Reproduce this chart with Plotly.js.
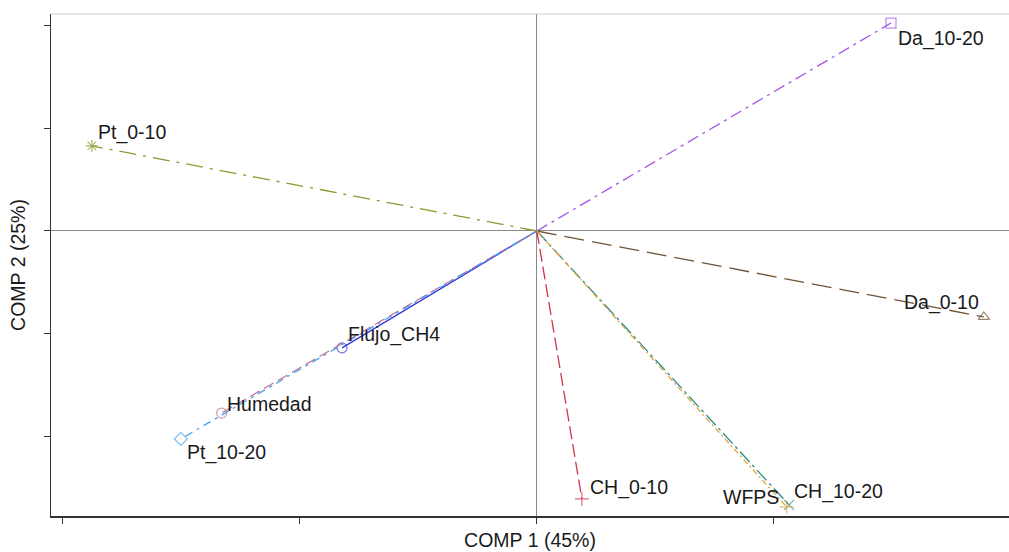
<!DOCTYPE html>
<html>
<head>
<meta charset="utf-8">
<script src="https://cdn.plot.ly/plotly-3.0.1.min.js"></script>
<style>html,body{margin:0;padding:0;background:#fff;}#chart{width:1009px;height:552px;}</style>
</head>
<body>
<div id="chart"></div>
<script>
// Loadings / scores (COMP 1, COMP 2)
const labels = ["Da_10-20", "Pt_0-10", "Da_0-10", "Flujo_CH4", "Humedad", "Pt_10-20", "CH_0-10", "CH_10-20", "WFPS"];
const comp1  = [0.747, -0.939, 0.943, -0.411, -0.665, -0.751, 0.095, 0.532, 0.527];
const comp2  = [1.012, 0.414, -0.418, -0.569, -0.886, -1.012, -1.304, -1.333, -1.343];
const xTicks = [-1, -0.5, 0, 0.5];
const yTicks = [-1, -0.5, 0, 0.5, 1];

const colors  = ["#a455e8", "#8a9a2e", "#6f5439", "#3434dc", "#c6708e", "#45a2f0", "#d23048", "#23908e", "#e8a334"];
const dashes  = ["12px,5px,3px,5px", "17px,7px,3px,7px", "20px,8px", "solid", "11px,5px", "8px,5px,3px,5px", "13px,5px", "14px,4px,3px,4px", "6px,3px,2px,3px"];
const symbols = ["square-open", "asterisk-open", "triangle-up-open", "circle-open", "circle-open", "diamond-open", "cross-thin-open", "x-thin-open", "cross-thin-open"];
const labelPos = [
  {xanchor: "left", xshift: 5, yshift: -15},
  {xanchor: "left", xshift: 4, yshift: 13},
  {xanchor: "right", xshift: -3, yshift: 14},
  {xanchor: "left", xshift: 4, yshift: 13},
  {xanchor: "left", xshift: 3, yshift: 9},
  {xanchor: "left", xshift: 4, yshift: -14},
  {xanchor: "left", xshift: 6, yshift: 11},
  {xanchor: "left", xshift: 3, yshift: 13},
  {xanchor: "right", xshift: -6, yshift: 10}
];

const FONT = "Liberation Sans, Arial, sans-serif";
const traces = labels.map((name, i) => ({
  type: "scatter",
  mode: "lines+markers",
  name: name,
  x: [0, comp1[i]],
  y: [0, comp2[i]],
  line: {color: colors[i], width: 1.3, dash: dashes[i]},
  marker: {symbol: symbols[i], size: [0, 10], color: colors[i], line: {color: colors[i], width: 1.2}},
  hoverinfo: "name",
  cliponaxis: false
}));

const annotations = labels.map((name, i) => ({
  x: comp1[i], y: comp2[i], xref: "x", yref: "y",
  text: name, showarrow: false,
  xanchor: labelPos[i].xanchor, yanchor: "middle",
  xshift: labelPos[i].xshift, yshift: labelPos[i].yshift,
  font: {family: FONT, size: 19.5, color: "#1a1a1a"}
}));

const layout = {
  width: 1009, height: 552,
  margin: {l: 51, r: 0, t: 14, b: 36},
  paper_bgcolor: "#fff", plot_bgcolor: "#fff",
  showlegend: false,
  font: {family: FONT, size: 19.5, color: "#1a1a1a"},
  xaxis: {
    range: [-1.025, 0.996], tickvals: xTicks, showticklabels: false,
    ticks: "outside", ticklen: 6, tickcolor: "#333", tickwidth: 1,
    showline: true, linecolor: "#333", linewidth: 1.5,
    showgrid: false, zeroline: true, zerolinecolor: "#8a8a8a", zerolinewidth: 1,
    title: {text: "COMP 1 (45%)", font: {family: FONT, size: 19.5, color: "#1a1a1a"}, standoff: 11}
  },
  yaxis: {
    range: [-1.387, 1.056], tickvals: yTicks, showticklabels: false,
    ticks: "outside", ticklen: 6, tickcolor: "#333", tickwidth: 1,
    showline: true, linecolor: "#333", linewidth: 1.5,
    showgrid: false, zeroline: true, zerolinecolor: "#8a8a8a", zerolinewidth: 1,
    title: {text: "COMP 2 (25%)", font: {family: FONT, size: 19.5, color: "#1a1a1a"}, standoff: 12}
  },
  shapes: [{type: "line", xref: "paper", yref: "paper", x0: 0, x1: 1, y0: 1, y1: 1, line: {color: "#cfcfcf", width: 1}}],
  annotations: annotations
};

Plotly.newPlot("chart", traces, layout, {displayModeBar: false, staticPlot: true});
</script>
</body>
</html>
